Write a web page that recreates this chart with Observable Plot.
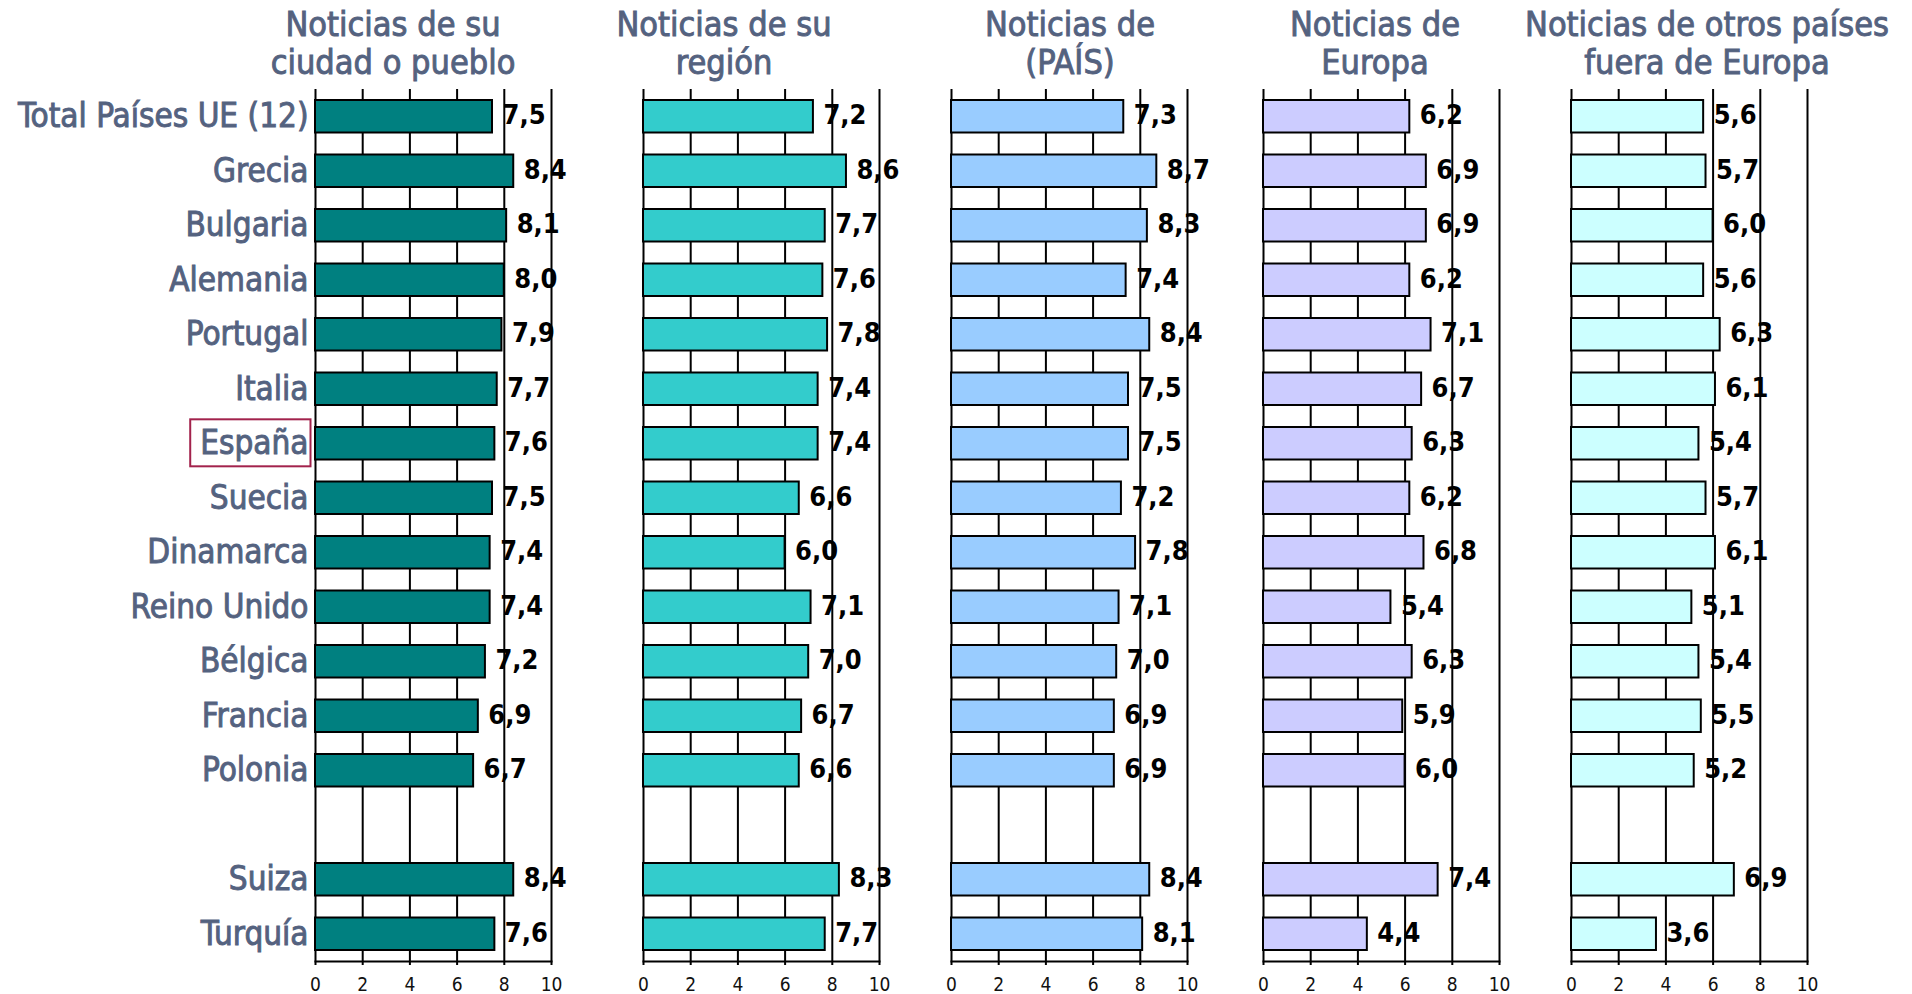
<!DOCTYPE html>
<html><head><meta charset="utf-8">
<script src="https://cdn.jsdelivr.net/npm/d3@7"></script>
<script src="https://cdn.jsdelivr.net/npm/@observablehq/plot@0.6"></script>
<style>
html,body{margin:0;padding:0;background:#fff;}
#chart{position:relative;width:1912px;height:994px;font-family:"DejaVu Sans Condensed","DejaVu Sans",sans-serif;font-stretch:condensed;}
.title{position:absolute;width:500px;text-align:center;font-size:34px;line-height:38px;color:#54627f;white-space:nowrap;-webkit-text-stroke:0.9px #54627f;}
.panel{position:absolute;top:0;}
.panel svg g[aria-label="y-axis tick label"] text{stroke:#54627f;stroke-width:0.9px;}
</style></head><body><div id="chart"></div>
<script>
// ---- data ----
const countries = ["Total Países UE (12)","Grecia","Bulgaria","Alemania","Portugal","Italia","España","Suecia","Dinamarca","Reino Unido","Bélgica","Francia","Polonia","","Suiza","Turquía"];
const ciudad  = [7.5,8.4,8.1,8.0,7.9,7.7,7.6,7.5,7.4,7.4,7.2,6.9,6.7,null,8.4,7.6];
const region  = [7.2,8.6,7.7,7.6,7.8,7.4,7.4,6.6,6.0,7.1,7.0,6.7,6.6,null,8.3,7.7];
const pais    = [7.3,8.7,8.3,7.4,8.4,7.5,7.5,7.2,7.8,7.1,7.0,6.9,6.9,null,8.4,8.1];
const europa  = [6.2,6.9,6.9,6.2,7.1,6.7,6.3,6.2,6.8,5.4,6.3,5.9,6.0,null,7.4,4.4];
const otros   = [5.6,5.7,6.0,5.6,6.3,6.1,5.4,5.7,6.1,5.1,5.4,5.5,5.2,null,6.9,3.6];
const titles = [["Noticias de su","ciudad o pueblo"],["Noticias de su","región"],["Noticias de","(PAÍS)"],["Noticias de","Europa"],["Noticias de otros países","fuera de Europa"]];
const colors = ["#008080","#33CCCC","#99CCFF","#CCCCFF","#CCFFFF"];
const xTicks = [0,2,4,6,8,10];
const highlighted = "España";

// ---- layout ----
const series = [ciudad, region, pais, europa, otros];
const panelX0 = [315, 643, 951, 1263, 1571];
const titleCenters = [393, 724, 1070, 1375, 1707];
const innerW = 236;
const fontFam = '"DejaVu Sans Condensed","DejaVu Sans",sans-serif';
const fmt = v => v.toFixed(1).replace(".", ",");
const chart = document.getElementById("chart");

series.forEach((vals, i) => {
  const ml = i === 0 ? 315 : 20;
  const mr = 40;
  const data = countries.map((c, j) => ({country: c, v: vals[j]})).filter(d => d.v != null);
  const marks = [
    Plot.ruleX(xTicks, {stroke: "#000", strokeWidth: 2}),
    Plot.frame({anchor: "bottom", stroke: "#000", strokeWidth: 2}),
    Plot.axisX({ticks: xTicks, tickSize: 4, tickPadding: 12, fontSize: 19, fill: "#111", stroke: "#000", strokeWidth: 2, label: null, tickFormat: d => String(d)}),
    Plot.barX(data, {x: "v", y: "country", fill: colors[i], stroke: "#000", strokeWidth: 2, insetTop: 11, insetBottom: 11}),
    Plot.text(data, {x: "v", y: "country", text: d => fmt(d.v), textAnchor: "start", dx: 10, dy: -1, fontSize: 27, fontWeight: "bold", fill: "#000"})
  ];
  if (i === 0) marks.push(Plot.axisY({tickSize: 0, tickPadding: 7, fontSize: 33, fill: "#54627f", label: null}));
  const plot = Plot.plot({
    width: ml + innerW + mr, height: 994,
    marginLeft: ml, marginRight: mr, marginTop: 89, marginBottom: 33,
    x: {domain: [0, 10], label: null},
    y: {domain: countries, padding: 0, round: false, axis: i === 0 ? undefined : null, label: null},
    style: {background: "transparent", overflow: "visible", fontFamily: fontFam, fontStretch: "condensed"},
    marks
  });
  const wrap = document.createElement("div");
  wrap.className = "panel";
  wrap.style.left = (panelX0[i] - ml) + "px";
  wrap.appendChild(plot);
  chart.appendChild(wrap);

  const t = document.createElement("div");
  t.className = "title";
  t.style.left = (titleCenters[i] - 250) + "px";
  t.style.top = "5px";
  t.innerHTML = titles[i][0] + "<br>" + titles[i][1];
  chart.appendChild(t);

  if (i === 0) {
    const txt = Array.from(plot.querySelectorAll("text")).find(e => e.textContent === highlighted);
    if (txt) {
      const b = txt.getBBox();
      const r = document.createElementNS("http://www.w3.org/2000/svg", "rect");
      r.setAttribute("x", b.x - 10);
      r.setAttribute("y", b.y - 4);
      r.setAttribute("width", b.width + 12);
      r.setAttribute("height", b.height + 8);
      r.setAttribute("fill", "none");
      r.setAttribute("stroke", "#a2224c");
      r.setAttribute("stroke-width", 2);
      const tr = txt.getAttribute("transform");
      if (tr) r.setAttribute("transform", tr);
      txt.parentNode.appendChild(r);
    }
  }
});
</script></body></html>
